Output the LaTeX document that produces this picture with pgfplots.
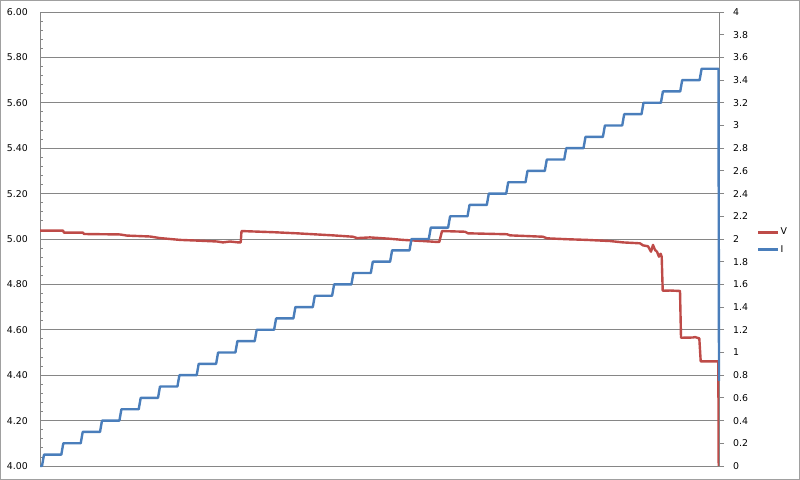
\documentclass[border=0pt]{standalone}
\usepackage{fontspec}
\setmainfont{DejaVu Sans}
\usepackage{pgfplots}
\pgfplotsset{compat=1.18}
\definecolor{vred}{HTML}{BE4B48}
\definecolor{iblue}{HTML}{4A7EBB}
\definecolor{axgray}{HTML}{868686}
\definecolor{bordergray}{HTML}{A0A0A0}
\newcommand{\tfont}{\fontsize{9.4}{11}\selectfont}
\begin{document}
\begin{tikzpicture}
\useasboundingbox (0,0) rectangle (800bp,480bp);
\draw[bordergray, line width=1bp] (0.5bp,0.5bp) rectangle (799.5bp,479.5bp);
% Left axis: V
\begin{axis}[
  at={(40bp,14bp)}, anchor=south west,
  scale only axis, width=679bp, height=454bp,
  xmin=0, xmax=679, ymin=4, ymax=6,
  axis x line*=bottom, axis y line*=left,
  axis line style={draw=axgray, line width=0.8bp, -},
  xtick=\empty,
  ytick={4,4.2,4.4,4.6,4.8,5,5.2,5.4,5.6,5.8,6},
  minor y tick num=4,
  tick align=inside,
  major tick length=0pt, minor tick length=3bp,
  every tick/.style={axgray, line width=0.8bp},
  ymajorgrids, major grid style={axgray, line width=0.8bp},
  yticklabel style={font=\tfont, anchor=east, inner sep=0pt, xshift=-12bp},
  /pgf/number format/assume math mode=true,
  yticklabel={\pgfmathprintnumber[fixed, fixed zerofill, precision=2]{\tick}},
  clip=false,
]
\addplot[vred, line width=2.4bp, line join=round] coordinates {
(0,5.037) (23,5.037) (24,5.028) (43,5.028) (44,5.022) (80,5.020) (87,5.015)
(110,5.011) (120,5.004) (140,4.996) (157,4.993) (177,4.989) (183,4.985)
(190,4.989) (198,4.985) (200.7,4.985) (201.5,5.035) (233,5.030) (257,5.025)
(273,5.021) (293,5.016) (313,5.010) (317,5.004) (330,5.007) (350,5.001)
(363,4.996) (383,4.991) (397,4.987) (399.3,4.987) (402,5.035) (425,5.032)
(428,5.025) (467,5.021) (470,5.016) (503,5.010) (507,5.003) (527,4.999)
(547,4.996) (570,4.991) (583,4.985) (600,4.981) (603,4.972) (608,4.968)
(611,4.944) (613,4.974) (615,4.952) (617,4.944) (619,4.922) (620.7,4.935)
(621.7,4.922) (622.7,4.772) (630,4.773) (640,4.771) (641,4.565) (653,4.566)
(655,4.568) (659.3,4.562) (660.7,4.461) (678.3,4.461) (678.7,4.0)
};
\end{axis}
% Right axis: I
\begin{axis}[
  at={(40bp,14bp)}, anchor=south west,
  scale only axis, width=679bp, height=454bp,
  xmin=0, xmax=679, ymin=0, ymax=4,
  axis x line=none, axis y line*=right,
  axis line style={draw=axgray, line width=0.8bp, -},
  ytick={0,0.2,0.4,0.6,0.8,1,1.2,1.4,1.6,1.8,2,2.2,2.4,2.6,2.8,3,3.2,3.4,3.6,3.8,4},
  yticklabels={0,0.2,0.4,0.6,0.8,1,1.2,1.4,1.6,1.8,2,2.2,2.4,2.6,2.8,3,3.2,3.4,3.6,3.8,4},
  tick align=outside, major tick length=5bp,
  every tick/.style={axgray, line width=0.8bp},
  yticklabel style={font=\tfont, anchor=west, inner sep=0pt, xshift=9bp},
  clip=false,
  legend style={draw=none, fill=none, at={(1.056,0.4956)}, anchor=west,
    font=\tfont, inner sep=0pt, row sep=7bp,
    nodes={inner sep=1bp}},
  legend cell align=left,
  legend image code/.code={\draw[#1] (0bp,0bp) -- (20bp,0bp);},
]
\addlegendimage{vred, line width=2.4bp}
\addlegendentry{V}
\addplot[iblue, line width=2.4bp, line join=round] coordinates {
(0,0) (2.0,0) (4.0,0.1) (21.3,0.1) (23.3,0.2) (40.7,0.2) (42.7,0.3)
(60.0,0.3) (62.0,0.4) (79.4,0.4) (81.4,0.5) (98.7,0.5) (100.7,0.6)
(118.0,0.6) (120.0,0.7) (137.4,0.7) (139.4,0.8) (156.7,0.8) (158.7,0.9)
(176.1,0.9) (178.1,1.0) (195.4,1.0) (197.4,1.1) (214.7,1.1) (216.7,1.2)
(234.1,1.2) (236.1,1.3) (253.4,1.3) (255.4,1.4) (272.8,1.4) (274.8,1.5)
(292.1,1.5) (294.1,1.6) (311.4,1.6) (313.4,1.7) (330.8,1.7) (332.8,1.8)
(350.1,1.8) (352.1,1.9) (369.5,1.9) (371.5,2.0) (388.8,2.0) (390.8,2.1)
(408.1,2.1) (410.1,2.2) (427.5,2.2) (429.5,2.3) (446.8,2.3) (448.8,2.4)
(466.2,2.4) (468.2,2.5) (485.5,2.5) (487.5,2.6) (504.8,2.6) (506.8,2.7)
(524.2,2.7) (526.2,2.8) (543.5,2.8) (545.5,2.9) (562.9,2.9) (564.9,3.0)
(582.2,3.0) (584.2,3.1) (601.5,3.1) (603.5,3.2) (620.9,3.2) (622.9,3.3)
(640.2,3.3) (642.2,3.4) (659.6,3.4) (661.6,3.5) (678.5,3.5) (679,0.75)
};
\addlegendentry{I}
\end{axis}
\end{tikzpicture}
\end{document}
